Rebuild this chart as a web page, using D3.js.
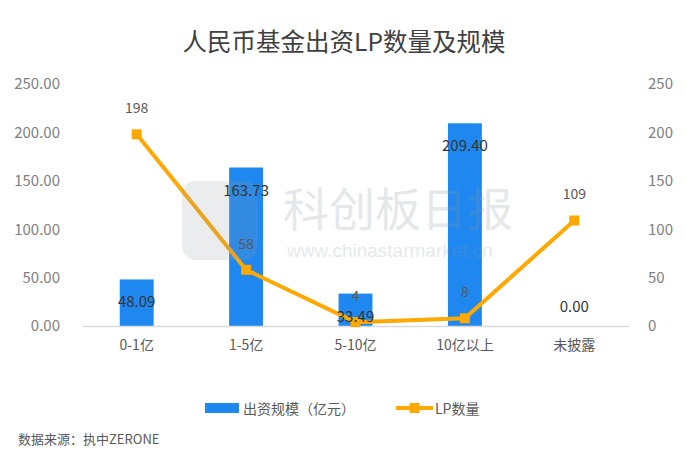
<!DOCTYPE html>
<html><head><meta charset="utf-8">
<script src="https://cdn.jsdelivr.net/npm/d3@7"></script>
<style>body{margin:0;background:#fff}svg{display:block;font-family:"Noto Sans CJK SC","Noto Sans",sans-serif}</style>
</head><body><div id="chart"></div>
<script>
const categories = ["0-1亿","1-5亿","5-10亿","10亿以上","未披露"];
const scaleValues = [48.09,163.73,33.49,209.40,0.00];
const lpCounts = [198,58,4,8,109];
const leftTicks = [0,50,100,150,200,250];
const rightTicks = [0,50,100,150,200,250];
const title = "人民币基金出资LP数量及规模";
const legendLabels = ["出资规模（亿元）","LP数量"];
const source = "数据来源：执中ZERONE";

const W=686,H=472;
const svg=d3.select("#chart").append("svg").attr("width",W).attr("height",H);
const x=d3.scaleBand().domain(categories).range([82,629]).paddingInner(0.69).paddingOuter(0.345);
const yL=d3.scaleLinear().domain([0,250]).range([326,84]);
const yR=d3.scaleLinear().domain([0,250]).range([326,84]);
const blue="#1f88f0", orange="#ffa800";

svg.append("text").attr("x",344).attr("y",51).attr("text-anchor","middle").attr("font-size",24.5).attr("fill","#404040").text(title);

// axes
const gl=svg.append("g").attr("transform","translate(82,0)")
 .call(d3.axisLeft(yL).tickValues(leftTicks).tickFormat(d3.format(".2f")).tickSize(0).tickPadding(22));
gl.select(".domain").remove();
gl.selectAll("text").attr("font-size",15).attr("fill","#808080").attr("font-family","Noto Sans CJK SC");
const gr=svg.append("g").attr("transform","translate(629,0)")
 .call(d3.axisRight(yR).tickValues(rightTicks).tickFormat(d3.format("d")).tickSize(0).tickPadding(19));
gr.select(".domain").remove();
gr.selectAll("text").attr("font-size",15).attr("fill","#808080").attr("font-family","Noto Sans CJK SC");

// bars
svg.append("g").selectAll("rect").data(categories).join("rect")
 .attr("x",d=>x(d)).attr("width",x.bandwidth())
 .attr("y",(d,i)=>yL(scaleValues[i])).attr("height",(d,i)=>yL(0)-yL(scaleValues[i]))
 .attr("fill",blue);

const gx=svg.append("g").attr("transform","translate(0,326)")
 .call(d3.axisBottom(x).tickSize(0).tickPadding(14));
gx.select(".domain").attr("stroke","#d9d9d9").attr("stroke-width",1.5);
gx.selectAll("text").attr("font-size",14).attr("fill","#595959").attr("font-family","Noto Sans CJK SC");

// line
const cx=d=>x(d)+x.bandwidth()/2;
const line=d3.line().x((d,i)=>cx(categories[i])).y(d=>yR(d));
svg.append("path").datum(lpCounts).attr("d",line).attr("fill","none").attr("stroke",orange).attr("stroke-width",4).attr("stroke-linejoin","round");
svg.append("g").selectAll("rect").data(lpCounts).join("rect")
 .attr("x",(d,i)=>cx(categories[i])-5).attr("y",d=>yR(d)-5).attr("width",10).attr("height",10).attr("fill",orange);

// watermark (on top, translucent)
const wm=svg.append("g");
wm.append("rect").attr("x",182).attr("y",181).attr("width",76).attr("height",79).attr("rx",14).attr("fill","#8c96a0").attr("opacity",0.18);
wm.append("text").attr("x",283).attr("y",226).attr("font-size",46).attr("fill","#8c98a4").attr("opacity",0.22).text("科创板日报");
wm.append("text").attr("x",287).attr("y",257).attr("font-size",19).attr("fill","#8c98a4").attr("opacity",0.22).attr("font-family","Liberation Sans, Arial, sans-serif").text("www.chinastarmarket.cn");

// labels
svg.append("g").selectAll("text").data(scaleValues).join("text")
 .attr("x",(d,i)=>cx(categories[i])).attr("y",d=>d>0?yL(d)+28:yL(d)-14)
 .attr("text-anchor","middle").attr("font-size",15).attr("fill","#333")
 .text(d=>d3.format(".2f")(d));
svg.append("g").selectAll("text").data(lpCounts).join("text")
 .attr("x",(d,i)=>cx(categories[i])).attr("y",d=>yR(d)-21)
 .attr("text-anchor","middle").attr("font-size",14).attr("fill","#595959")
 .text(d=>d);

// legend
svg.append("rect").attr("x",205).attr("y",403).attr("width",34).attr("height",10).attr("fill",blue);
svg.append("text").attr("x",243).attr("y",414).attr("font-size",14).attr("fill","#595959").text(legendLabels[0]);
svg.append("line").attr("x1",396).attr("x2",433).attr("y1",408).attr("y2",408).attr("stroke",orange).attr("stroke-width",4);
svg.append("rect").attr("x",409.5).attr("y",403).attr("width",10).attr("height",10).attr("fill",orange);
svg.append("text").attr("x",435).attr("y",414).attr("font-size",14).attr("fill","#595959").text(legendLabels[1]);

svg.append("text").attr("x",18).attr("y",444).attr("font-size",13).attr("fill","#595959").text(source);
</script></body></html>
